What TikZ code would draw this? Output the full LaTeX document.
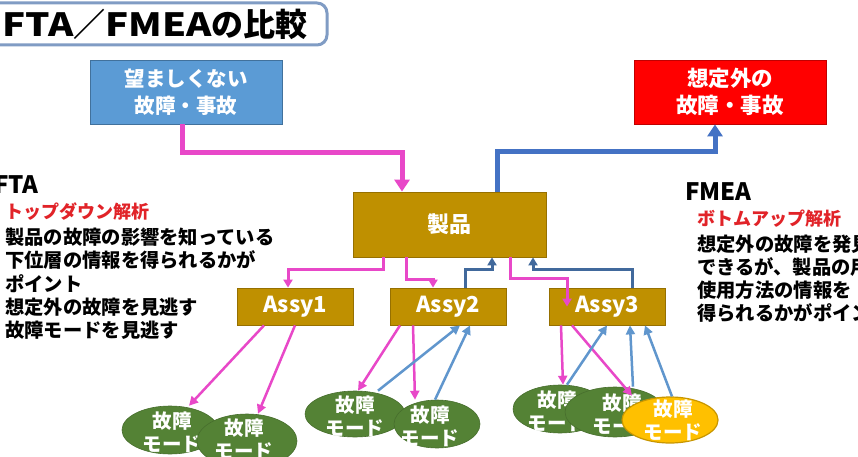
\documentclass[tikz,border=0pt]{standalone}
\usepackage{fontspec}
\setmainfont{Noto Sans CJK JP}
\newfontfamily\wlat[FakeStretch=1.2]{Noto Sans CJK JP}
\usetikzlibrary{arrows.meta,shapes.geometric,calc}
\definecolor{pkc}{RGB}{232,72,200}
\definecolor{topblue}{RGB}{68,114,196}
\definecolor{midblue}{RGB}{65,105,156}
\definecolor{lowblue}{RGB}{96,150,205}
\definecolor{boxblue}{RGB}{91,155,213}
\definecolor{boxblueb}{RGB}{65,113,156}
\definecolor{boxred}{RGB}{255,0,0}
\definecolor{boxredb}{RGB}{192,0,0}
\definecolor{gold}{RGB}{191,144,0}
\definecolor{goldb}{RGB}{150,112,0}
\definecolor{grn}{RGB}{84,130,53}
\definecolor{yel}{RGB}{255,192,0}
\definecolor{yelb}{RGB}{200,150,0}
\definecolor{ttlb}{RGB}{128,156,196}
\definecolor{subred}{RGB}{225,35,40}
\tikzset{
 titlebox/.style={draw=ttlb, line width=3pt, rounded corners=10pt, minimum width=354pt, minimum height=42pt, inner sep=0},
 topbox/.style={line width=0.8pt, minimum width=192pt, minimum height=64pt, inner sep=0, text=white, align=center, font=\fontsize{20.5}{27}\selectfont\bfseries},
 bluebox/.style={topbox, fill=boxblue, draw=boxblueb},
 redbox/.style={topbox, fill=boxred, draw=boxredb, font=\fontsize{21.5}{27}\selectfont\bfseries},
 goldbox/.style={fill=gold, draw=goldb, line width=0.8pt, inner sep=0, text=white, font=\fontsize{22}{26}\selectfont\bfseries},
 assy/.style={goldbox, minimum width=116pt, minimum height=37pt},
 gell/.style={ellipse, fill=grn, draw=grn!85!black, line width=0.6pt, inner sep=0},
 yell/.style={ellipse, fill=yel, draw=yelb, line width=1.2pt, inner sep=0},
 etext/.style={text=white, align=center, inner sep=0, font=\fontsize{19.5}{23}\selectfont\bfseries},
 body/.style={anchor=west, inner sep=0, font=\fontsize{19.3}{23}\selectfont\bfseries},
 sub/.style={anchor=west, inner sep=0, text=subred, font=\fontsize{18}{22}\selectfont\bfseries},
 head/.style={anchor=west, inner sep=0, font=\fontsize{24}{28}\selectfont\bfseries},
 bigpk/.style={draw=pkc, line width=5pt, -{Triangle[width=15pt,length=12pt]}},
 bigbl/.style={draw=topblue, line width=5pt, -{Triangle[width=15pt,length=12pt]}},
 midpk/.style={draw=pkc, line width=3pt, -{Triangle[width=9pt,length=8pt]}},
 midbl/.style={draw=midblue, line width=3pt, -{Triangle[width=9pt,length=8pt]}},
 lowpk/.style={draw=pkc, line width=2.5pt, -{Triangle[width=9pt,length=9pt]}},
 lowbl/.style={draw=lowblue, line width=2.5pt, -{Triangle[width=9pt,length=9pt]}},
}
\begin{document}
\begin{tikzpicture}[x=1pt,y=-1pt]
\useasboundingbox (0,0) rectangle (858,457);
\clip (0,0) rectangle (858,457);
\fill[white] (0,0) rectangle (858,457);

% title
\node[titlebox] (tbox) at (150,24) {};
\node[anchor=east, inner sep=0, font=\fontsize{32}{32}\selectfont\bfseries] (title) at (308,24) {{\wlat FTA}／{\wlat FMEA}の比較};

% top boxes
\node[bluebox] (bad) at (186,92) {望ましくない\\故障・事故};
\node[redbox] (unexp) at (730,92) {想定外の\\故障・事故};

% product and assemblies
\node[goldbox, minimum width=193pt, minimum height=65pt] (prod) at (449.5,224.5) {製品};
\node[assy] (a1) at (295,306.5) {Assy1};
\node[assy] (a2) at (448,306.5) {Assy2};
\node[assy] (a3) at (607,306.5) {Assy3};

% FTA text
\node[head] (ft0) at (-6,185) {FTA};
\node[sub] (ft1) at (5,212) {トップダウン解析};
\node[body] (ft2) at (5,237) {製品の故障の影響を知っている};
\node[body] (ft3) at (5,260) {下位層の情報を得られるかが};
\node[body] (ft4) at (5,284) {ポイント};
\node[body] (ft5) at (5,307) {想定外の故障を見逃す};
\node[body] (ft6) at (5,330) {故障モードを見逃す};

% FMEA text
\node[head] (fm0) at (685,192) {FMEA};
\node[sub] (fm1) at (697,219) {ボトムアップ解析};
\node[body] (fm2) at (697,244) {想定外の故障を発見};
\node[body] (fm3) at (697,267) {できるが、製品の用途};
\node[body] (fm4) at (697,290) {使用方法の情報を};
\node[body] (fm5) at (697,313) {得られるかがポイント};

% failure modes
\node[gell, minimum width=96pt, minimum height=48pt] (e1) at (170,430) {};
\node[etext] (t1) at (172,432) {故障\\モード};
\node[gell, minimum width=100pt, minimum height=54pt] (e2) at (247,441) {};
\node[etext] (t2) at (244,439) {故障\\モード};
\node[gell, minimum width=100pt, minimum height=46pt] (e3) at (355,414) {};
\node[etext] (t3) at (355,416) {故障\\モード};
\node[gell, minimum width=86pt, minimum height=48pt] (e4) at (437,424) {};
\node[etext] (t4) at (430,426) {故障\\モード};
\node[gell, minimum width=94pt, minimum height=48pt] (e5) at (560,409) {};
\node[etext] (t5) at (557,411) {故障\\モード};
\node[gell, minimum width=100pt, minimum height=50pt] (e6) at (615,412) {};
\node[etext] (t6) at (622,414) {故障\\モード};
\node[yell, minimum width=96pt, minimum height=46pt] (e7) at (670,420) {};
\node[etext] (t7) at (673,420) {故障\\モード};

% top connectors
\draw[bigpk] (bad.south -| 182,0) |- (402,153) -- (prod.north -| 402,0);
\draw[bigbl] (prod.north -| 497,0) |- (715,152) -- (unexp.south -| 715,0);

% product <-> assemblies
\draw[midpk] (prod.south -| 383,0) |- (288,269) -- (a1.north -| 288,0);
\draw[midpk] (prod.south -| 406,0) |- (433,279) -- (a2.north -| 433,0);
\draw[midbl] (a2.north -| 465,0) |- (492,269) -- (prod.south -| 492,0);
\draw[midpk] (prod.south -| 510,0) |- (567,278) -- ($(a3.north -| 567,0)+(0,19)$);
\draw[midbl] (a3.north -| 632,0) |- (533,269) -- (prod.south -| 533,0);

% assemblies <-> failure modes
\draw[lowpk] (a1.south -| 264,0) -- (e1.north -| 189,0);
\draw[lowpk] (a1.south -| 295,0) -- (e2.north -| 258,0);
\draw[lowpk] (a2.south -| 400,0) -- (e3.north -| 358,0);
\draw[lowpk] (a2.south -| 413,0) -- (e4.north -| 415,0);
\draw[lowbl] (e3.north -| 378,0) -- (a2.south -| 460,0);
\draw[lowbl] (e4.north -| 435,0) -- (a2.south -| 470,0);
\draw[lowpk] (a3.south -| 561,0) -- (e5.north -| 563,0);
\draw[lowpk] (a3.south -| 572,0) -- ($(e6.north -| 632,0)+(0,9)$);
\draw[lowbl] (e5.north -| 567,0) -- (a3.south -| 607,0);
\draw[lowbl] (e6.north -| 633,0) -- (a3.south -| 630,0);
\draw[lowbl] (e7.north -| 672,0) -- (a3.south -| 645,0);
\end{tikzpicture}
\end{document}
